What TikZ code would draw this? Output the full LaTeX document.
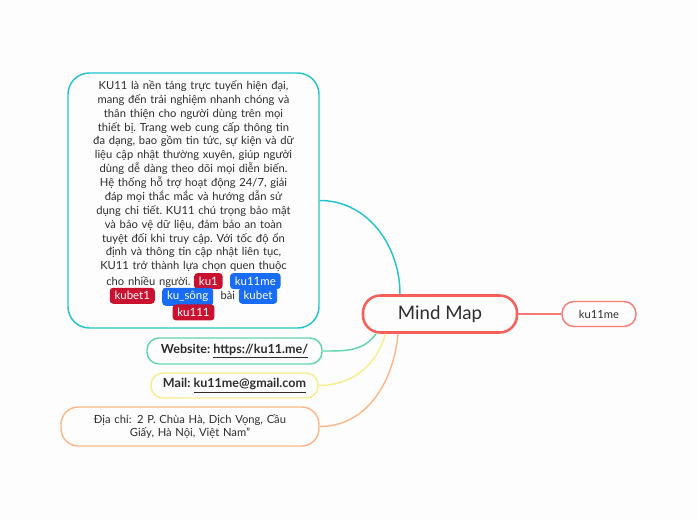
\documentclass[tikz,border=0pt]{standalone}
\usepackage{fontspec}
\setmainfont{Lato}
\usetikzlibrary{positioning}
\definecolor{bgcol}{RGB}{253,253,253}
\definecolor{ink}{RGB}{45,45,45}
\definecolor{mainred}{RGB}{246,96,90}
\definecolor{softred}{RGB}{250,122,116}
\definecolor{cyanc}{RGB}{36,196,206}
\definecolor{greenc}{RGB}{96,214,172}
\definecolor{yellowc}{RGB}{248,238,140}
\definecolor{orangec}{RGB}{253,184,138}
\definecolor{tagred}{RGB}{200,18,48}
\definecolor{tagblue}{RGB}{24,108,245}
\frenchspacing
\tikzset{
  kutag/.style={draw=none, minimum width=0pt, minimum height=0pt, text width={},
    align=left, rounded corners=2.5pt, text=white, inner xsep=3.6pt, inner ysep=2.8pt,
    font=\fontsize{8.6}{10}\selectfont}
}
\newcommand{\kured}[1]{\tikz[baseline=(k.base)]\node[kutag, fill=tagred] (k) {#1};}
\newcommand{\kublue}[1]{\tikz[baseline=(k.base)]\node[kutag, fill=tagblue] (k) {#1};}
\begin{document}
\begin{tikzpicture}[
  x=0.75pt, y=-0.75pt,
  font=\fontsize{8.4}{10.4}\selectfont, text=ink,
  topic/.style={draw, fill=bgcol, align=center, inner sep=0pt, line width=1.1pt},
  link/.style={line width=1.1pt}
]
\fill[bgcol] (0,0) rectangle (697,520);
\useasboundingbox (0,0) rectangle (697,520);

\node[topic, draw=mainred, line width=1.9pt, rounded corners=13pt,
  minimum width=115.5pt, minimum height=27.75pt, font=\fontsize{14}{16}\selectfont]
  (main) at (440,314) {Mind Map};
\node[topic, draw=softred, rounded corners=9pt, minimum width=55.5pt, minimum height=18.75pt]
  (key) at (599,314) {ku11me};
\node[topic, draw=cyanc, rounded corners=16pt, minimum width=188.25pt, minimum height=191.25pt,
  text width=175pt]
  (info) at (193.5,200.5) {KU11 là nền tảng trực tuyến hiện đại,\\
  mang đến trải nghiệm nhanh chóng và\\
  thân thiện cho người dùng trên mọi\\
  thiết bị. Trang web cung cấp thông tin\\
  đa dạng, bao gồm tin tức, sự kiện và dữ\\
  liệu cập nhật thường xuyên, giúp người\\
  dùng dễ dàng theo dõi mọi diễn biến.\\
  Hệ thống hỗ trợ hoạt động 24/7, giải\\
  đáp mọi thắc mắc và hướng dẫn sử\\
  dụng chi tiết. KU11 chú trọng bảo mật\\
  và bảo vệ dữ liệu, đảm bảo an toàn\\
  tuyệt đối khi truy cập. Với tốc độ ổn\\
  định và thông tin cập nhật liên tục,\\
  KU11 trở thành lựa chọn quen thuộc\\
  cho nhiều người. \kured{ku1}\ \ \kublue{ku11me}\\[-2pt]
  \kured{kubet1}\ \ \kublue{ku\_sông}\ \ bài \kublue{kubet}\\[-2pt]
  \kured{ku111}};
\node[topic, draw=greenc, rounded corners=9pt, minimum width=131.25pt, minimum height=19.5pt,
  font=\fontsize{9.4}{10}\selectfont\bfseries]
  (web) at (234.5,351) {Website: \underline{https://ku11.me/}};
\node[topic, draw=yellowc, rounded corners=9pt, minimum width=125.25pt, minimum height=18.75pt,
  font=\fontsize{9.4}{10}\selectfont\bfseries]
  (mail) at (234.5,385.5) {Mail: \underline{ku11me@gmail.com}};
\node[topic, draw=orangec, rounded corners=13pt, minimum width=193.5pt, minimum height=29.25pt,
  text width=175pt]
  (addr) at (190,426.5) {Địa chỉ:\ \,2 P. Chùa Hà, Dịch Vọng, Cầu\\Giấy, Hà Nội, Việt Nam''};

\draw[link, softred] (main.east) -- (key.west);
\draw[link, cyanc] ([xshift=-30pt]main.north) to[out=90, in=0] (info.east);
\draw[link, greenc] ([xshift=-48pt]main.south) to[out=235, in=0] (web.east);
\draw[link, yellowc] ([xshift=-41pt]main.south) to[out=255, in=0] (mail.east);
\draw[link, orangec] ([xshift=-31.5pt]main.south) to[out=265, in=0] (addr.east);
\end{tikzpicture}
\end{document}
